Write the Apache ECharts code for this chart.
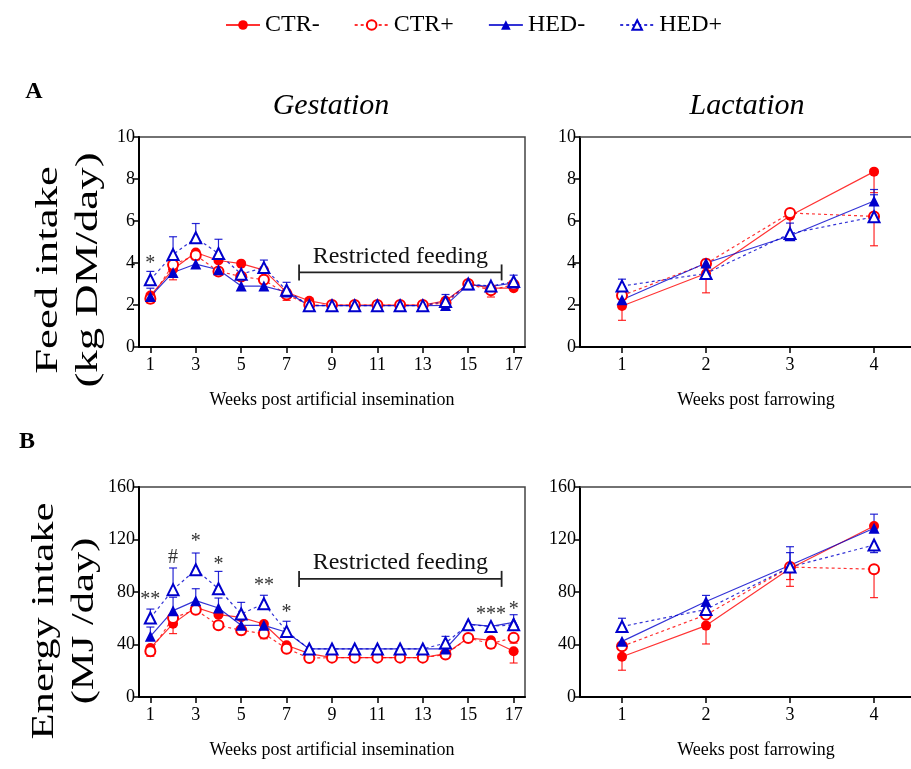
<!DOCTYPE html>
<html>
<head>
<meta charset="utf-8">
<script src="https://cdn.jsdelivr.net/npm/echarts@6/dist/echarts.min.js"></script>
<style>html,body{margin:0;background:#fff}#main{width:911px;height:769px}</style>
</head>
<body>
<div id="main"></div>
<script>
// x values
var weeksGest = [1, 2, 3, 4, 5, 6, 7, 8, 9, 10, 11, 12, 13, 14, 15, 16, 17];
var weeksLact = [1, 2, 3, 4];
var gestTicks = [1, 3, 5, 7, 9, 11, 13, 15, 17];
var lactTicks = [1, 2, 3, 4];

// A: feed intake (kg DM/day), gestation
var feedGestCtrMinus = [2.45, 3.7, 4.5, 4.12, 3.97, 3.66, 2.6, 2.2, 2.0, 2.0, 2.0, 2.0, 2.0, 2.2, 3.0, 2.8, 2.8];
var feedGestCtrPlus  = [2.3, 3.92, 4.37, 3.6, 3.36, 3.2, 2.5, 2.0, 2.0, 2.0, 2.0, 2.0, 2.0, 2.1, 3.0, 2.7, 2.97];
var feedGestHedMinus = [2.4, 3.55, 3.95, 3.68, 2.9, 2.9, 2.62, 1.97, 1.97, 1.97, 1.97, 1.97, 1.97, 1.98, 2.97, 2.88, 3.05];
var feedGestHedPlus  = [3.2, 4.4, 5.2, 4.45, 3.47, 3.78, 2.7, 1.97, 1.97, 1.97, 1.97, 1.97, 1.97, 2.17, 3.0, 2.9, 3.12];
// error bars: + drawn upward, - drawn downward, 0 none
var feedGestCtrMinusErr = [0, -0.5, 0, 0, 0, 0, 0, 0, 0, 0, 0, 0, 0, 0, 0, 0, 0];
var feedGestCtrPlusErr  = [-0.2, 0, -0.2, 0, 0, 0, -0.28, 0, 0, 0, 0, 0, 0, 0, 0, -0.32, 0.15];
var feedGestHedMinusErr = [0.4, 0, 0.2, 0, 0, 0, 0, 0, 0, 0, 0, 0, 0, 0, 0, 0, 0];
var feedGestHedPlusErr  = [0.4, 0.85, 0.68, 0.68, 0, 0.36, 0.38, 0, 0, 0, 0, 0, 0, 0.33, 0, 0, 0.3];

// A: feed intake, lactation
var feedLactCtrMinus = [1.95, 3.5, 6.25, 8.35];
var feedLactCtrPlus  = [2.45, 3.97, 6.38, 6.22];
var feedLactHedMinus = [2.25, 4.0, 5.3, 6.95];
var feedLactHedPlus  = [2.9, 3.5, 5.4, 6.2];
var feedLactCtrMinusErr = [-0.68, -0.92, -0.95, -1.0];
var feedLactCtrPlusErr  = [0, 0, 0, -1.4];
var feedLactHedMinusErr = [0, 0.17, 0.6, 0.55];
var feedLactHedPlusErr  = [0.33, 0, 0, 1.05];

// B: energy intake (MJ/day), gestation
var energyGestCtrMinus = [37.3, 55.9, 68.3, 62.7, 60.7, 55.6, 39.4, 33, 30, 30, 30, 30, 30, 33, 45, 43.2, 34.8];
var energyGestCtrPlus  = [34.8, 60.2, 66.5, 54.6, 50.8, 48.3, 36.8, 29.7, 30, 30, 30, 30, 30, 32.3, 45, 40.6, 45.2];
var energyGestHedMinus = [46.2, 65.8, 73.4, 67.8, 54.6, 54.6, 49.3, 36.6, 36.6, 36.6, 36.6, 36.6, 36.6, 36.6, 55.6, 53.8, 56.9];
var energyGestHedPlus  = [60.2, 81.8, 97, 82.5, 63.2, 71.1, 50, 36.6, 36.6, 36.6, 36.6, 36.6, 36.6, 41.1, 55.1, 53.8, 55.1];
var energyGestCtrMinusErr = [0, -7.6, 0, 0, 0, 0, 0, 0, 0, 0, 0, 0, 0, 0, 0, 0, -8.9];
var energyGestCtrPlusErr  = [-3.8, 0, -2.5, 0, -3.3, -3.9, -2.5, 0, 0, 0, 0, 0, 0, 0, 0, -3.3, -4.2];
var energyGestHedMinusErr = [7.1, 10.2, 9.1, 7.6, 0, 0, 0, 0, 0, 0, 0, 0, 0, 0, 0, 0, 0];
var energyGestHedPlusErr  = [6.8, 16.5, 12.7, 13.2, 8.9, 6.4, 7.7, 0, 0, 0, 0, 0, 0, 5.1, 0, 0, 7.6];

// B: energy intake, lactation
var energyLactCtrMinus = [30.7, 54.4, 97.9, 130.3];
var energyLactCtrPlus  = [38.6, 62.6, 99, 97.4];
var energyLactHedMinus = [42.4, 72.8, 100.4, 128.6];
var energyLactHedPlus  = [53.7, 66.7, 99, 115.8];
var energyLactCtrMinusErr = [-10.3, -14, -13.6, 0];
var energyLactCtrPlusErr  = [0, 0, -9.5, -21.7];
var energyLactHedMinusErr = [0, 4.6, 9.6, 10.7];
var energyLactHedPlusErr  = [6.3, 0, 15.5, -5.8];

// significance marks [week, y, text]
var sigFeedGest = [[1, 3.95, '*']];
var sigEnergyGest = [[1, 74, '**'], [2, 106, '#'], [3, 118, '*'], [4, 101, '*'], [6, 85, '**'], [7, 64, '*'], [16, 63, '***'], [17, 66.5, '*']];

// restricted feeding bracket
var restrictedWeeks = [7.55, 16.47];
var restrictedYFeed = 3.55;
var restrictedYEnergy = 90;

var FONT = '"Liberation Serif", "Times New Roman", serif';
var RED = '#ff0000', BLUE = '#0000cc';

var groups = [
  {name: 'CTR-', color: RED, symbol: 'circle', open: false, dash: 'solid'},
  {name: 'CTR+', color: RED, symbol: 'circle', open: true, dash: [3, 3]},
  {name: 'HED-', color: BLUE, symbol: 'triangle', open: false, dash: 'solid'},
  {name: 'HED+', color: BLUE, symbol: 'triangle', open: true, dash: [3, 3]}
];

function lineSeries(g, idx, xs, ys) {
  return {
    name: g.name, type: 'line', xAxisIndex: idx, yAxisIndex: idx, z: 3,
    data: xs.map(function (x, i) { return [x, ys[i]]; }),
    symbol: g.symbol, symbolSize: g.symbol === 'circle' ? 10 : 11, showAllSymbol: true,
    itemStyle: g.open ? {color: '#fff', borderColor: g.color, borderWidth: 2} : {color: g.color},
    lineStyle: {color: g.color, width: 1.2, type: g.dash, opacity: 0.8},
    emphasis: {disabled: true}, animation: false
  };
}

function errSeries(g, idx, xs, ys, errs) {
  var d = [];
  xs.forEach(function (x, i) { if (errs[i]) d.push([x, ys[i], ys[i] + errs[i]]); });
  return {
    type: 'custom', xAxisIndex: idx, yAxisIndex: idx, z: 2, silent: true, animation: false,
    data: d,
    renderItem: function (params, api) {
      var p0 = api.coord([api.value(0), api.value(1)]);
      var p1 = api.coord([api.value(0), api.value(2)]);
      var st = {stroke: g.color, lineWidth: 1.2, opacity: 0.85};
      return {type: 'group', children: [
        {type: 'line', shape: {x1: p0[0], y1: p0[1], x2: p1[0], y2: p1[1]}, style: st},
        {type: 'line', shape: {x1: p1[0] - 4, y1: p1[1], x2: p1[0] + 4, y2: p1[1]}, style: st}
      ]};
    }
  };
}

function sigSeries(idx, marks) {
  return {
    type: 'custom', xAxisIndex: idx, yAxisIndex: idx, z: 4, silent: true, animation: false,
    data: marks.map(function (m) { return [m[0], m[1]]; }),
    renderItem: function (params, api) {
      var p = api.coord([api.value(0), api.value(1)]);
      return {type: 'text', x: p[0], y: p[1],
        style: {text: marks[params.dataIndex][2], font: '20px ' + FONT, fill: '#333',
          textAlign: 'center', textVerticalAlign: 'middle'}};
    }
  };
}

function bracketSeries(idx, yv) {
  return {
    type: 'custom', xAxisIndex: idx, yAxisIndex: idx, z: 4, silent: true, animation: false,
    data: [[restrictedWeeks[0], restrictedWeeks[1], yv]],
    renderItem: function (params, api) {
      var a = api.coord([api.value(0), api.value(2)]);
      var b = api.coord([api.value(1), api.value(2)]);
      var st = {stroke: '#222', lineWidth: 1.8};
      return {type: 'group', children: [
        {type: 'line', shape: {x1: a[0], y1: a[1], x2: b[0], y2: b[1]}, style: st},
        {type: 'line', shape: {x1: a[0], y1: a[1] - 8, x2: a[0], y2: a[1] + 8}, style: st},
        {type: 'line', shape: {x1: b[0], y1: b[1] - 8, x2: b[0], y2: b[1] + 8}, style: st},
        {type: 'text', x: (a[0] + b[0]) / 2, y: a[1] - 16,
          style: {text: 'Restricted feeding', font: '24px ' + FONT, fill: '#111',
            textAlign: 'center', textVerticalAlign: 'middle'}}
      ]};
    }
  };
}

function panel(idx, xs, sets, errs) {
  var out = [];
  groups.forEach(function (g, k) { out.push(errSeries(g, idx, xs, sets[k], errs[k])); });
  groups.forEach(function (g, k) { out.push(lineSeries(g, idx, xs, sets[k])); });
  return out;
}

function xAxis(idx, max, ticks, name, pad) {
  return {
    type: 'value', gridIndex: idx, min: 0.5, max: max, splitLine: {show: false},
    axisLine: {onZero: false, lineStyle: {color: '#000', width: 2}},
    axisTick: {customValues: ticks, length: 6, lineStyle: {color: '#000', width: 1.5}},
    axisLabel: {customValues: ticks, fontSize: 18, fontFamily: FONT, color: '#000', margin: 9},
    name: name, nameLocation: 'middle', nameGap: 44,
    nameTextStyle: {fontSize: 18, fontFamily: FONT, color: '#000', padding: [0, 0, 0, pad]}
  };
}

// top frame line for the lactation panels (their right edge runs off the picture)
function topLine(idx, max) {
  return {
    type: 'value', gridIndex: idx, position: 'top', min: 0.5, max: max,
    splitLine: {show: false}, axisTick: {show: false}, axisLabel: {show: false},
    axisLine: {show: true, onZero: false, lineStyle: {color: '#444', width: 1.5}}
  };
}

function yAxis(idx, max, interval) {
  return {
    type: 'value', gridIndex: idx, min: 0, max: max, interval: interval, splitLine: {show: false},
    axisLine: {show: true, lineStyle: {color: '#000', width: 2}},
    axisTick: {show: true, length: 6, lineStyle: {color: '#000', width: 1.5}},
    axisLabel: {fontSize: 18, fontFamily: FONT, color: '#000', margin: 4}
  };
}

var series = []
  .concat(panel(0, weeksGest, [feedGestCtrMinus, feedGestCtrPlus, feedGestHedMinus, feedGestHedPlus],
    [feedGestCtrMinusErr, feedGestCtrPlusErr, feedGestHedMinusErr, feedGestHedPlusErr]))
  .concat(panel(1, weeksLact, [feedLactCtrMinus, feedLactCtrPlus, feedLactHedMinus, feedLactHedPlus],
    [feedLactCtrMinusErr, feedLactCtrPlusErr, feedLactHedMinusErr, feedLactHedPlusErr]))
  .concat(panel(2, weeksGest, [energyGestCtrMinus, energyGestCtrPlus, energyGestHedMinus, energyGestHedPlus],
    [energyGestCtrMinusErr, energyGestCtrPlusErr, energyGestHedMinusErr, energyGestHedPlusErr]))
  .concat(panel(3, weeksLact, [energyLactCtrMinus, energyLactCtrPlus, energyLactHedMinus, energyLactHedPlus],
    [energyLactCtrMinusErr, energyLactCtrPlusErr, energyLactHedMinusErr, energyLactHedPlusErr]));
series.push(sigSeries(0, sigFeedGest), sigSeries(2, sigEnergyGest));
series.push(bracketSeries(0, restrictedYFeed), bracketSeries(2, restrictedYEnergy));

var gridBox = {show: true, borderColor: '#444', borderWidth: 1.5, backgroundColor: 'transparent'};
var option = {
  backgroundColor: '#fff',
  animation: false,
  textStyle: {fontFamily: FONT},
  legend: {
    data: ['CTR-', 'CTR+', 'HED-', 'HED+'], left: 220, top: 8,
    itemWidth: 34, itemHeight: 12, itemGap: 34,
    textStyle: {fontSize: 24, fontFamily: FONT, color: '#000'}
  },
  grid: [
    Object.assign({left: 139, top: 137, width: 386, height: 210}, gridBox),
    {left: 580, top: 137, right: 0, height: 210},
    Object.assign({left: 139, top: 487, width: 386, height: 210}, gridBox),
    {left: 580, top: 487, right: 0, height: 210}
  ],
  xAxis: [
    xAxis(0, 17.5, gestTicks, 'Weeks post artificial insemination', 0),
    xAxis(1, 4.44, lactTicks, 'Weeks post farrowing', 21),
    xAxis(2, 17.5, gestTicks, 'Weeks post artificial insemination', 0),
    xAxis(3, 4.44, lactTicks, 'Weeks post farrowing', 21),
    topLine(1, 4.44),
    topLine(3, 4.44)
  ],
  yAxis: [yAxis(0, 10, 2), yAxis(1, 10, 2), yAxis(2, 160, 40), yAxis(3, 160, 40)],
  graphic: [
    {type: 'text', x: 34, y: 92, style: {text: 'A', font: 'bold 24px ' + FONT, fill: '#000', textAlign: 'center', textVerticalAlign: 'middle'}},
    {type: 'text', x: 27, y: 442, style: {text: 'B', font: 'bold 24px ' + FONT, fill: '#000', textAlign: 'center', textVerticalAlign: 'middle'}},
    {type: 'text', x: 331, y: 106, style: {text: 'Gestation', font: 'italic 30px ' + FONT, fill: '#000', textAlign: 'center', textVerticalAlign: 'middle'}},
    {type: 'text', x: 747, y: 106, style: {text: 'Lactation', font: 'italic 30px ' + FONT, fill: '#000', textAlign: 'center', textVerticalAlign: 'middle'}},
    {type: 'text', x: 49, y: 270, rotation: Math.PI / 2, scaleX: 1.4,
      style: {text: 'Feed intake', font: '32px ' + FONT, fill: '#000', textAlign: 'center', textVerticalAlign: 'middle'}},
    {type: 'text', x: 89, y: 270, rotation: Math.PI / 2, scaleX: 1.4,
      style: {text: '(kg DM/day)', font: '32px ' + FONT, fill: '#000', textAlign: 'center', textVerticalAlign: 'middle'}},
    {type: 'text', x: 45, y: 621, rotation: Math.PI / 2, scaleX: 1.33,
      style: {text: 'Energy intake', font: '32px ' + FONT, fill: '#000', textAlign: 'center', textVerticalAlign: 'middle'}},
    {type: 'text', x: 85, y: 621, rotation: Math.PI / 2, scaleX: 1.33,
      style: {text: '(MJ /day)', font: '32px ' + FONT, fill: '#000', textAlign: 'center', textVerticalAlign: 'middle'}}
  ],
  series: series
};

var chart = echarts.init(document.getElementById('main'));
chart.setOption(option);
</script>
</body>
</html>
